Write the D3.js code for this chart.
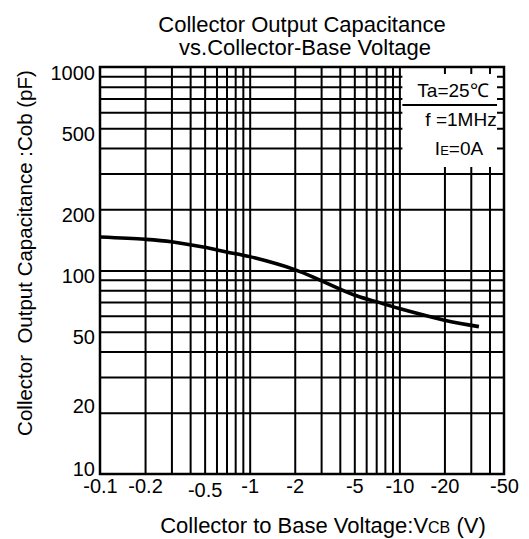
<!DOCTYPE html>
<html><head><meta charset="utf-8">
<script src="https://cdn.jsdelivr.net/npm/d3@7"></script>
<style>
body{margin:0;background:#fff}
svg text{font-family:"Liberation Sans",Arial,sans-serif;fill:#000}
</style>
</head><body>
<svg id="c" width="529" height="539"></svg>
<script>
const titleLines = ["Collector Output Capacitance", "vs.Collector-Base Voltage"];
const xTickValues = [0.1, 0.2, 0.5, 1, 2, 5, 10, 20, 50];
const xTickLabels = ["-0.1", "-0.2", "-0.5", "-1", "-2", "-5", "-10", "-20", "-50"];
const xGridValues = [0.2, 0.3, 0.4, 0.5, 0.6, 0.7, 0.8, 0.9, 1, 2, 3, 4, 5, 6, 7, 8, 9, 10, 20, 30, 40];
const yTickValues = [10, 20, 50, 100, 200, 500, 1000];
const yTickLabels = ["10", "20", "50", "100", "200", "500", "1000"];
const yGridValues = [20, 30, 40, 50, 60, 70, 80, 90, 100, 200, 300, 400, 500, 600, 700, 800, 900];
// |VCB| (V) and Cob (pF)
const vcb = [0.1, 0.2, 0.3, 0.5, 0.7, 1, 2, 3, 5, 7, 10, 20, 34];
const cob = [146, 142.3, 138.5, 130, 123.4, 117, 101, 89.2, 75.8, 70.3, 65, 57, 53];
const legendLines = ["Ta=25℃", "f =1MHz"];
const xTitle = ["Collector to Base Voltage:V", "CB", " (V)"];
const yTitle = "Collector  Output Capacitance :Cob (pF)";

const svg = d3.select("#c");
const L = 100, R = 504, T = 67, B = 474;
const x = d3.scaleLog().domain([0.1, 50]).range([L, R]);
const y = d3.scaleLog().domain([10, 1000]).range([B, T]);

// grid
const gx = svg.append("g").attr("transform", `translate(0,${B})`)
  .call(d3.axisBottom(x).tickValues(xGridValues).tickSize(-(B - T)).tickFormat(""));
gx.select(".domain").remove();
gx.selectAll("line").attr("stroke", "#000").attr("stroke-width", 2);
const gy = svg.append("g").attr("transform", `translate(${L},0)`)
  .call(d3.axisLeft(y).tickValues(yGridValues).tickSize(-(R - L)).tickFormat(""));
gy.select(".domain").remove();
gy.selectAll("line").attr("stroke", "#000").attr("stroke-width", 2);

// frame
svg.append("rect").attr("x", L).attr("y", T).attr("width", R - L).attr("height", B - T)
  .attr("fill", "none").attr("stroke", "#000").attr("stroke-width", 2.5);

// curve
const pts = vcb.map((v, i) => [v, cob[i]]);
svg.append("path").datum(pts)
  .attr("fill", "none").attr("stroke", "#000").attr("stroke-width", 3.6)
  .attr("stroke-linecap", "butt")
  .attr("d", d3.line().x(d => x(d[0])).y(d => y(d[1])).curve(d3.curveCatmullRom.alpha(0.5)));

// legend box
const bx0 = x(10) + 3, bx1 = R - 7, by0 = T + 7, by1 = 167, bsep = 105;
svg.append("rect").attr("x", bx0).attr("y", by0).attr("width", bx1 - bx0).attr("height", by1 - by0).attr("fill", "#fff");
svg.append("line").attr("x1", bx0).attr("x2", bx1).attr("y1", bsep).attr("y2", bsep).attr("stroke", "#000").attr("stroke-width", 2);
svg.append("text").attr("x", 453).attr("y", 97).attr("text-anchor", "middle").attr("font-size", 19)
  .text(legendLines[0]);
svg.append("text").attr("x", 461).attr("y", 126).attr("text-anchor", "middle").attr("font-size", 19)
  .text(legendLines[1]);
const ie = svg.append("text").attr("x", 459).attr("y", 155).attr("text-anchor", "middle").attr("font-size", 19);
ie.append("tspan").text("I");
ie.append("tspan").attr("font-size", 13).text("E");
ie.append("tspan").text("=0A");

// x tick labels
const ax = svg.append("g").attr("transform", `translate(0,${B})`)
  .call(d3.axisBottom(x).tickValues(xTickValues).tickSize(0).tickPadding(5)
    .tickFormat((d, i) => xTickLabels[i]));
ax.select(".domain").remove();
ax.selectAll("text").attr("font-size", 20).attr("fill", "#000")
  .attr("font-family", '"Liberation Sans",Arial,sans-serif')
  .attr("dy", d => d === 0.5 ? "0.9em" : "0.72em");

// y tick labels
const ay = svg.append("g").attr("transform", `translate(${L},0)`)
  .call(d3.axisLeft(y).tickValues(yTickValues).tickSize(0).tickPadding(5)
    .tickFormat((d, i) => yTickLabels[i]));
ay.select(".domain").remove();
ay.selectAll("text").attr("font-size", 20).attr("fill", "#000")
  .attr("font-family", '"Liberation Sans",Arial,sans-serif')
  .attr("dy", d => d === 10 ? "0.05em" : (d === 20 ? "0em" : "0.6em"));

// titles
svg.append("text").attr("x", 302).attr("y", 32).attr("text-anchor", "middle").attr("font-size", 22).text(titleLines[0]);
svg.append("text").attr("x", 305).attr("y", 55).attr("text-anchor", "middle").attr("font-size", 22).text(titleLines[1]);

const xt = svg.append("text").attr("x", 323).attr("y", 533).attr("text-anchor", "middle").attr("font-size", 22);
xt.append("tspan").text(xTitle[0]);
xt.append("tspan").attr("font-size", 16).text(xTitle[1]);
xt.append("tspan").text(xTitle[2]);

svg.append("text").attr("transform", "translate(32,253) rotate(-90)").attr("text-anchor", "middle")
  .attr("font-size", 20.5).attr("xml:space", "preserve").style("white-space", "pre").text(yTitle);
</script>
</body></html>
